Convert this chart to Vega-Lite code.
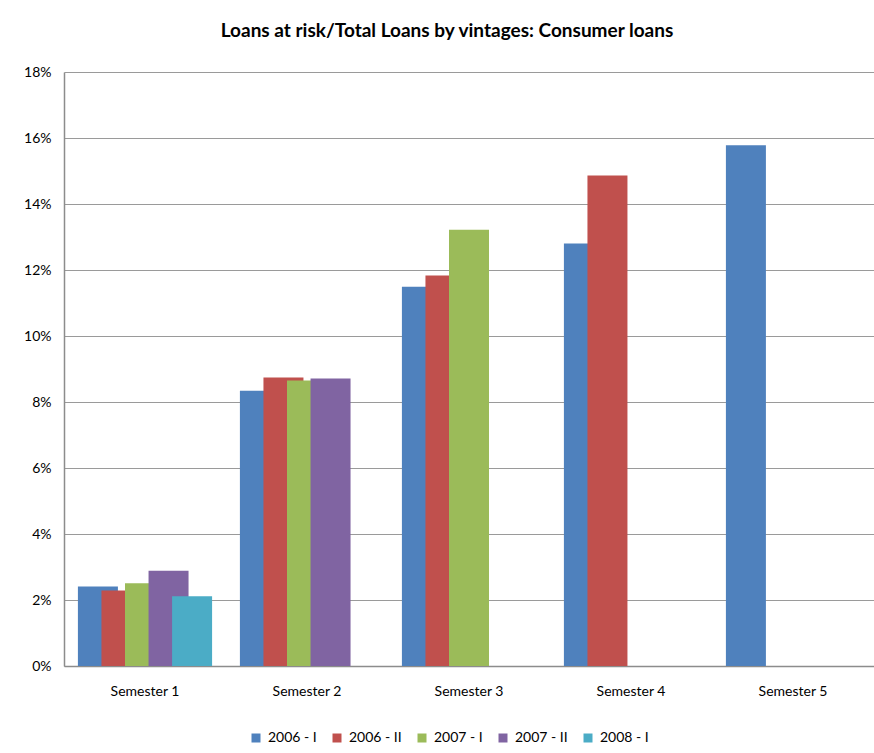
{
  "$schema": "https://vega.github.io/schema/vega-lite/v6.json",
  "width": 810,
  "height": 594,
  "autosize": {"type": "none"},
  "padding": {"left": 64, "top": 72, "right": 0, "bottom": 87},
  "background": "white",
  "title": {
    "text": "Loans at risk/Total Loans by vintages: Consumer loans",
    "font": "Lato",
    "fontSize": 19,
    "fontWeight": "bold",
    "color": "#000000",
    "anchor": "middle",
    "dx": -22,
    "offset": 9,
    "baseline": "alphabetic"
  },
  "config": {
    "view": {"stroke": null},
    "font": "Lato",
    "axis": {
      "labelFont": "Lato",
      "labelFontSize": 14,
      "labelColor": "#000000",
      "domainColor": "#8c8c8c",
      "domainWidth": 1.5,
      "gridColor": "#9a9a9a",
      "gridWidth": 1.2,
      "ticks": false,
      "title": null
    }
  },
  "data": {
    "values": [
      {"semester": "Semester 1", "vintage": "2006 - I", "ratio": 0.0241},
      {"semester": "Semester 1", "vintage": "2006 - II", "ratio": 0.0229},
      {"semester": "Semester 1", "vintage": "2007 - I", "ratio": 0.0251},
      {"semester": "Semester 1", "vintage": "2007 - II", "ratio": 0.0289},
      {"semester": "Semester 1", "vintage": "2008 - I", "ratio": 0.0211},
      {"semester": "Semester 2", "vintage": "2006 - I", "ratio": 0.0834},
      {"semester": "Semester 2", "vintage": "2006 - II", "ratio": 0.0874},
      {"semester": "Semester 2", "vintage": "2007 - I", "ratio": 0.0865},
      {"semester": "Semester 2", "vintage": "2007 - II", "ratio": 0.0871},
      {"semester": "Semester 3", "vintage": "2006 - I", "ratio": 0.1149},
      {"semester": "Semester 3", "vintage": "2006 - II", "ratio": 0.1183},
      {"semester": "Semester 3", "vintage": "2007 - I", "ratio": 0.1322},
      {"semester": "Semester 4", "vintage": "2006 - I", "ratio": 0.1280},
      {"semester": "Semester 4", "vintage": "2006 - II", "ratio": 0.1486},
      {"semester": "Semester 5", "vintage": "2006 - I", "ratio": 0.1578}
    ]
  },
  "mark": {"type": "bar", "width": 40},
  "encoding": {
    "x": {
      "field": "semester",
      "type": "nominal",
      "scale": {"paddingInner": 0, "paddingOuter": 0},
      "axis": {"labelAngle": 0, "labelPadding": 18, "grid": false}
    },
    "xOffset": {
      "field": "vintage",
      "type": "nominal",
      "scale": {"paddingInner": 0, "paddingOuter": 0.94}
    },
    "y": {
      "field": "ratio",
      "type": "quantitative",
      "scale": {"domain": [0, 0.18], "nice": false},
      "axis": {
        "values": [0, 0.02, 0.04, 0.06, 0.08, 0.1, 0.12, 0.14, 0.16, 0.18],
        "format": ".0%",
        "labelPadding": 13,
        "grid": true
      }
    },
    "color": {
      "field": "vintage",
      "type": "nominal",
      "scale": {
        "domain": ["2006 - I", "2006 - II", "2007 - I", "2007 - II", "2008 - I"],
        "range": ["#4F81BD", "#C0504D", "#9BBB59", "#8064A2", "#4BACC6"]
      },
      "legend": {
        "orient": "none",
        "direction": "horizontal",
        "legendX": 185,
        "legendY": 659,
        "title": null,
        "symbolType": "square",
        "symbolSize": 81,
        "symbolStrokeWidth": 0,
        "labelFont": "Lato",
        "labelFontSize": 14,
        "labelColor": "#000000",
        "labelOffset": 5,
        "columnPadding": 13
      }
    }
  }
}
